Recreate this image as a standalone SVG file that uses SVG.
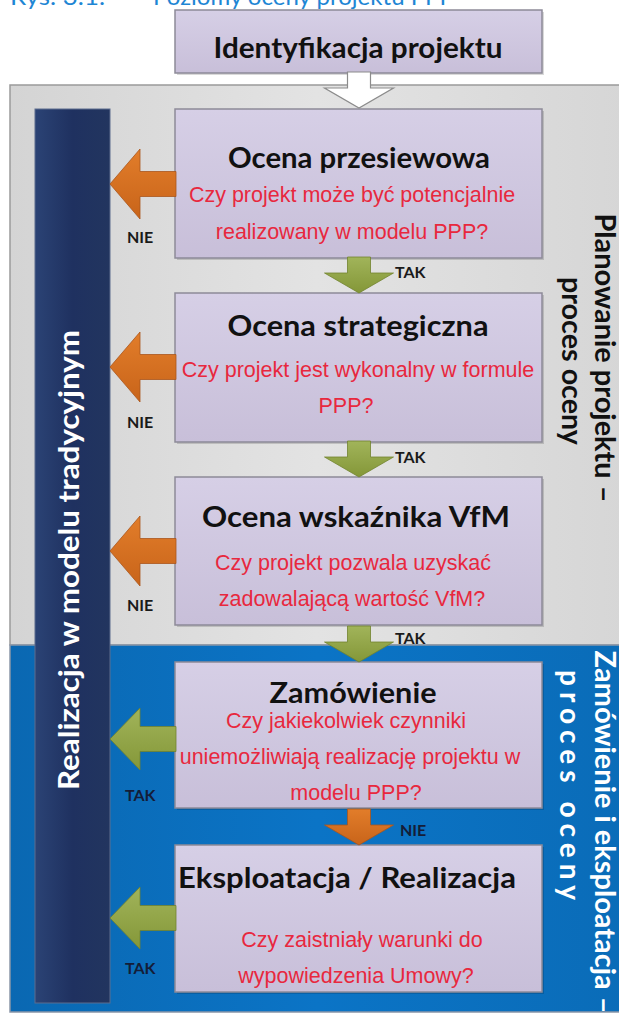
<svg xmlns="http://www.w3.org/2000/svg" width="619" height="1022" viewBox="0 0 619 1022">
<defs>
<linearGradient id="gBox" x1="0" y1="0" x2="0" y2="1"><stop offset="0" stop-color="#D6CFE6"/><stop offset="1" stop-color="#C8BFD9"/></linearGradient>
<linearGradient id="gGray" x1="0" y1="0" x2="1" y2="0"><stop offset="0" stop-color="#D4D4D4"/><stop offset="0.5" stop-color="#E3E3E3"/><stop offset="1" stop-color="#D6D6D6"/></linearGradient>
<linearGradient id="gBlue" x1="0" y1="0" x2="1" y2="0"><stop offset="0" stop-color="#0A68B2"/><stop offset="0.5" stop-color="#0B74C6"/><stop offset="1" stop-color="#0A6CB8"/></linearGradient>
<linearGradient id="gNavy" x1="0" y1="0" x2="1" y2="0"><stop offset="0" stop-color="#2B4375"/><stop offset="0.5" stop-color="#1F3160"/><stop offset="1" stop-color="#22355F"/></linearGradient>
<linearGradient id="gOrange" x1="0" y1="0" x2="0" y2="1"><stop offset="0" stop-color="#E27D2A"/><stop offset="1" stop-color="#C8641A"/></linearGradient>
<linearGradient id="gGreen" x1="0" y1="0" x2="0" y2="1"><stop offset="0" stop-color="#A1B45A"/><stop offset="1" stop-color="#849738"/></linearGradient>
<path id="la" d="M0,0 L30,-35 L30,-12.5 L66,-12.5 L66,12.5 L30,12.5 L30,35 Z"/>
<path id="lg" d="M0,0 L30,-31 L30,-12.5 L66,-12.5 L66,12.5 L30,12.5 L30,31 Z"/>
<path id="da" d="M-11.5,0 H11.5 V16 H34.5 L0,36 L-34.5,16 H-11.5 Z"/>
</defs>
<style>
.box{fill:url(#gBox);stroke:#8D8A98;stroke-width:1.5}
.shadow{fill:#000;opacity:0.15}
.title{font-family:Lato,'Liberation Sans',sans-serif;font-weight:700;font-size:28px;fill:#111;text-anchor:middle}
.q{font-family:'Liberation Sans',Arial,sans-serif;font-size:21.5px;fill:#E8283E;text-anchor:middle}
.lbl{font-family:Lato,'Liberation Sans',sans-serif;font-weight:700;font-size:16px;fill:#1A1A1A}
.lblb{font-family:Lato,'Liberation Sans',sans-serif;font-weight:700;font-size:16px;fill:#141D38}
.or{fill:url(#gOrange);stroke:#A9561C;stroke-width:0.8}
.gr{fill:url(#gGreen);stroke:#71832E;stroke-width:0.8}
.wh{fill:#FFFFFF;stroke:#8C8C8C;stroke-width:1.2}
.side{font-family:Lato,'Liberation Sans',sans-serif;font-weight:700;font-size:28px;text-anchor:middle}
.cap{font-family:Lato,'Liberation Sans',sans-serif;font-size:24px;fill:#1E86D4}
</style>

<g id="caption">
<text class="cap" x="10" y="5" textLength="95" lengthAdjust="spacingAndGlyphs">Rys. 3.1.</text>
<text class="cap" x="153" y="5" textLength="301" lengthAdjust="spacingAndGlyphs">Poziomy oceny projektu PPP</text>
</g>

<g id="panels">
<rect id="panel-planowanie" x="10" y="85" width="615" height="560" fill="url(#gGray)" stroke="#9A9A9A" stroke-width="1.5"/>
<rect id="panel-zamowienie" x="10" y="645" width="615" height="367" fill="url(#gBlue)" stroke="#8A96A8" stroke-width="1.5"/>
<text class="side" fill="#111" transform="translate(595,358) rotate(90)" textLength="289" lengthAdjust="spacingAndGlyphs">Planowanie projektu –</text>
<text class="side" fill="#111" transform="translate(562,361) rotate(90)" textLength="168" lengthAdjust="spacingAndGlyphs">proces oceny</text>
<text class="side" fill="#FFFFFF" transform="translate(595,832) rotate(90)" textLength="363" lengthAdjust="spacingAndGlyphs">Zamówienie i eksploatacja –</text>
<text class="side" fill="#FFFFFF" transform="translate(560,785) rotate(90)" textLength="230" lengthAdjust="spacing">proces oceny</text>
</g>

<g id="realizacja-tradycyjna">
<rect x="35" y="109" width="75" height="894" fill="url(#gNavy)" stroke="#5C6C8E" stroke-width="1"/>
<text class="side" fill="#FFFFFF" font-size="30" transform="translate(79,560) rotate(-90)" textLength="460" lengthAdjust="spacingAndGlyphs">Realizacja w modelu tradycyjnym</text>
</g>

<g id="identyfikacja">
<rect class="shadow" x="177" y="12" width="367" height="63"/>
<rect class="box" x="175" y="10" width="367" height="63"/>
<text class="title" x="358" y="58" textLength="289" lengthAdjust="spacingAndGlyphs">Identyfikacja projektu</text>
</g>

<g id="ocena-przesiewowa">
<rect class="shadow" x="177" y="111" width="367" height="149"/>
<rect class="box" x="175" y="109" width="367" height="149"/>
<text class="title" x="359" y="168" textLength="262" lengthAdjust="spacingAndGlyphs">Ocena przesiewowa</text>
<text class="q" x="352" y="202">Czy projekt może być potencjalnie</text>
<text class="q" x="352" y="239">realizowany w modelu PPP?</text>
</g>

<g id="ocena-strategiczna">
<rect class="shadow" x="177" y="295" width="367" height="149"/>
<rect class="box" x="175" y="293" width="367" height="149"/>
<text class="title" x="358" y="336" textLength="261" lengthAdjust="spacingAndGlyphs">Ocena strategiczna</text>
<text class="q" x="358" y="377" font-size="19.8">Czy projekt jest wykonalny w formule</text>
<text class="q" x="346" y="413" font-size="19.8">PPP?</text>
</g>

<g id="ocena-vfm">
<rect class="shadow" x="177" y="479" width="367" height="148"/>
<rect class="box" x="175" y="477" width="367" height="148"/>
<text class="title" x="356" y="527" textLength="308" lengthAdjust="spacingAndGlyphs">Ocena wskaźnika VfM</text>
<text class="q" x="353" y="570">Czy projekt pozwala uzyskać</text>
<text class="q" x="352" y="606">zadowalającą wartość VfM?</text>
</g>

<g id="zamowienie">
<rect class="shadow" x="177" y="664" width="367" height="146"/>
<rect class="box" x="175" y="662" width="367" height="146"/>
<text class="title" x="353" y="703" textLength="167" lengthAdjust="spacingAndGlyphs">Zamówienie</text>
<text class="q" x="346" y="728">Czy jakiekolwiek czynniki</text>
<text class="q" x="350" y="764">uniemożliwiają realizację projektu w</text>
<text class="q" x="356" y="800">modelu PPP?</text>
</g>

<g id="eksploatacja">
<rect class="shadow" x="177" y="847" width="367" height="147"/>
<rect class="box" x="175" y="845" width="367" height="147"/>
<text class="title" x="347" y="888" textLength="338" lengthAdjust="spacingAndGlyphs">Eksploatacja / Realizacja</text>
<text class="q" x="362" y="947" font-size="20.5">Czy zaistniały warunki do</text>
<text class="q" x="356" y="983" font-size="20.5">wypowiedzenia Umowy?</text>
</g>

<g id="connectors">
<use href="#da" x="359" y="72" class="wh"/>
<use href="#da" x="359" y="257" class="gr"/>
<use href="#da" x="359" y="441" class="gr"/>
<use href="#da" x="359" y="626" class="gr"/>
<use href="#da" x="359" y="809" class="or"/>
<text class="lbl" x="395" y="278">TAK</text>
<text class="lbl" x="395" y="463">TAK</text>
<text class="lbl" x="395" y="644">TAK</text>
<text class="lblb" x="400" y="836">NIE</text>

<use href="#la" x="110" y="184" class="or"/>
<use href="#la" x="110" y="367" class="or"/>
<use href="#la" x="110" y="551" class="or"/>
<use href="#lg" x="110" y="739" class="gr"/>
<use href="#lg" x="110" y="918" class="gr"/>
<text class="lbl" x="127" y="243">NIE</text>
<text class="lbl" x="127" y="428">NIE</text>
<text class="lbl" x="127" y="611">NIE</text>
<text class="lblb" x="125" y="801">TAK</text>
<text class="lblb" x="125" y="974">TAK</text>
</g>
</svg>
